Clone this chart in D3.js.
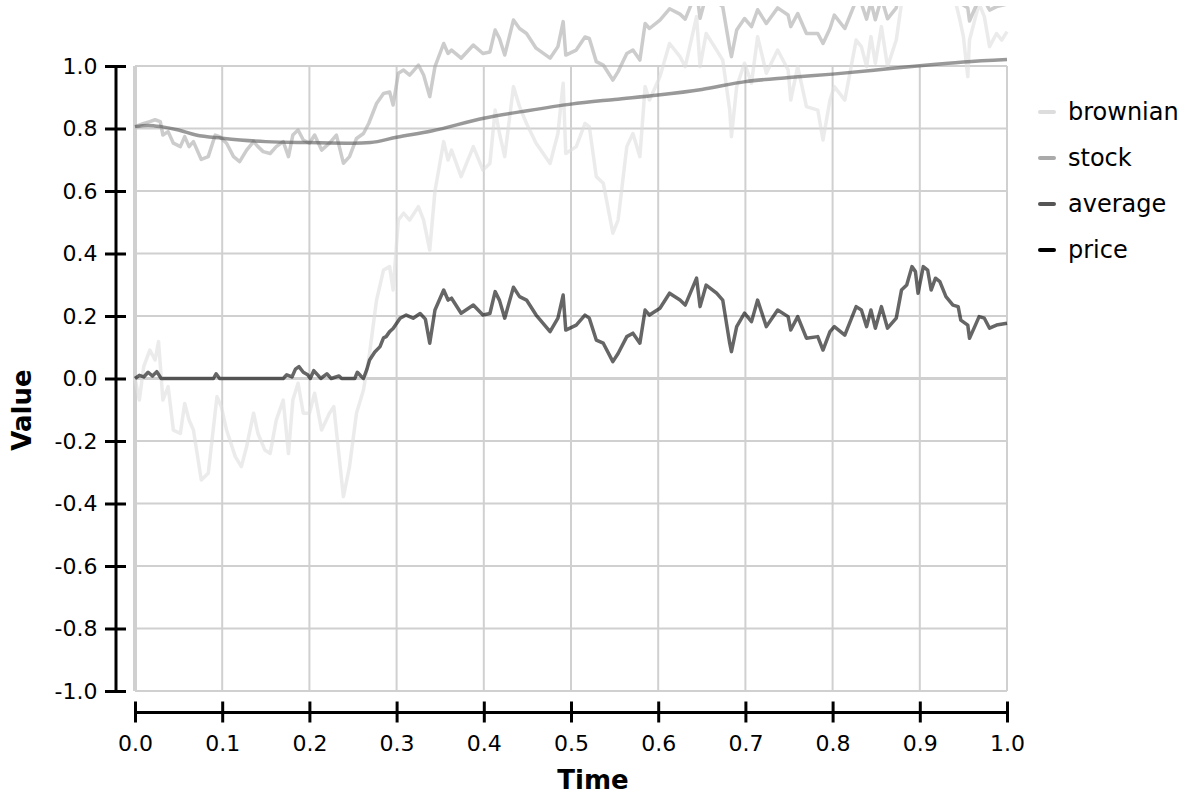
<!DOCTYPE html>
<html>
<head>
<meta charset="utf-8">
<script src="https://cdn.jsdelivr.net/npm/d3@7"></script>
<style>
  body { margin: 0; background: #fff; }
  text { font-family: "DejaVu Sans", sans-serif; fill: #000; }
</style>
</head>
<body>
<div id="chartDiv"></div>
<script>
;(function() {

	var width = 1186;
	var height = 795;
	var plot = { left: 135, right: 1007, top: 66, bottom: 691 };

	var seriesNames = ["brownian", "stock", "average", "price"];
	var seriesColors = ["#dddddd", "#aaaaaa", "#555555", "#000000"];
	var xTicks = [0, 0.1, 0.2, 0.3, 0.4, 0.5, 0.6, 0.7, 0.8, 0.9, 1.0];
	var yTicks = [-1, -0.8, -0.6, -0.4, -0.2, 0, 0.2, 0.4, 0.6, 0.8, 1.0];

	// [time, value]
	var brownian = [[0,0],[0.005,-0.069],[0.01,0.038],[0.017,0.091],[0.023,0.059],[0.027,0.118],[0.032,-0.069],[0.038,-0.026],
		[0.044,-0.165],[0.052,-0.176],[0.057,-0.08],[0.062,-0.133],[0.067,-0.165],[0.076,-0.325],[0.084,-0.303],[0.094,-0.058],
		[0.099,-0.09],[0.105,-0.165],[0.115,-0.25],[0.122,-0.282],[0.128,-0.218],[0.136,-0.111],[0.141,-0.176],[0.149,-0.229],
		[0.155,-0.24],[0.162,-0.133],[0.17,-0.069],[0.176,-0.24],[0.181,-0.069],[0.187,-0.015],[0.193,-0.111],[0.2,-0.111],
		[0.206,-0.047],[0.214,-0.165],[0.223,-0.111],[0.228,-0.09],[0.239,-0.378],[0.246,-0.282],[0.254,-0.111],[0.262,-0.037],
		[0.269,0.081],[0.277,0.251],[0.285,0.347],[0.292,0.358],[0.296,0.283],[0.302,0.507],[0.308,0.529],[0.315,0.507],
		[0.325,0.55],[0.331,0.507],[0.338,0.411],[0.344,0.6],[0.354,0.758],[0.359,0.699],[0.363,0.731],[0.374,0.646],
		[0.388,0.742],[0.399,0.667],[0.407,0.688],[0.413,0.859],[0.418,0.784],[0.424,0.71],[0.434,0.934],[0.441,0.87],
		[0.449,0.816],[0.46,0.753],[0.476,0.688],[0.485,0.784],[0.491,0.945],[0.494,0.72],[0.506,0.742],[0.516,0.816],
		[0.521,0.806],[0.529,0.646],[0.537,0.625],[0.548,0.465],[0.554,0.507],[0.564,0.742],[0.571,0.784],[0.579,0.71],
		[0.585,0.934],[0.59,0.891],[0.602,0.966],[0.613,1.072],[0.625,1.03],[0.631,0.998],[0.644,1.158],[0.648,0.998],
		[0.655,1.104],[0.667,1.051],[0.674,1.019],[0.682,0.859],[0.684,0.774],[0.69,0.934],[0.699,1.009],[0.707,0.945],
		[0.714,1.094],[0.724,0.977],[0.737,1.051],[0.749,0.987],[0.752,0.891],[0.76,0.998],[0.77,0.87],[0.783,0.859],
		[0.789,0.763],[0.797,0.891],[0.802,0.934],[0.814,0.891],[0.827,1.083],[0.833,1.062],[0.839,0.998],[0.844,1.094],
		[0.849,1.009],[0.856,1.126],[0.863,0.998],[0.873,1.083],[0.879,1.2],[0.885,1.25],[0.891,1.35],[0.898,1.28],
		[0.904,1.36],[0.913,1.3],[0.923,1.33],[0.93,1.28],[0.938,1.24],[0.946,1.147],[0.95,1.094],[0.955,0.966],
		[0.957,1.083],[0.963,1.147],[0.968,1.2],[0.974,1.158],[0.98,1.062],[0.988,1.104],[0.994,1.083],[1.0,1.11]];

	var stock = [[0,0.806],[0.01,0.816],[0.017,0.822],[0.023,0.828],[0.029,0.822],[0.032,0.779],[0.038,0.79],[0.044,0.753],
		[0.052,0.742],[0.057,0.774],[0.062,0.742],[0.067,0.758],[0.076,0.701],[0.084,0.71],[0.092,0.779],[0.097,0.774],
		[0.105,0.753],[0.113,0.71],[0.12,0.694],[0.128,0.731],[0.136,0.758],[0.141,0.742],[0.147,0.726],[0.155,0.72],
		[0.162,0.742],[0.17,0.758],[0.176,0.71],[0.181,0.779],[0.187,0.795],[0.193,0.763],[0.2,0.753],[0.206,0.779],
		[0.214,0.731],[0.223,0.753],[0.231,0.779],[0.239,0.689],[0.246,0.71],[0.254,0.768],[0.262,0.784],[0.268,0.816],
		[0.277,0.88],[0.285,0.912],[0.292,0.917],[0.296,0.875],[0.302,0.977],[0.308,0.987],[0.315,0.971],[0.325,1.003],
		[0.331,0.971],[0.338,0.902],[0.344,0.998],[0.354,1.072],[0.359,1.04],[0.363,1.051],[0.374,1.025],[0.388,1.067],
		[0.399,1.04],[0.407,1.045],[0.413,1.115],[0.418,1.088],[0.424,1.035],[0.434,1.147],[0.441,1.12],[0.449,1.104],
		[0.46,1.057],[0.476,1.025],[0.485,1.062],[0.491,1.142],[0.494,1.035],[0.506,1.051],[0.516,1.093],[0.521,1.088],
		[0.529,1.014],[0.537,1.003],[0.548,0.955],[0.554,0.982],[0.564,1.04],[0.571,1.051],[0.579,1.019],[0.585,1.136],
		[0.59,1.12],[0.602,1.147],[0.613,1.183],[0.625,1.166],[0.631,1.15],[0.644,1.24],[0.648,1.153],[0.655,1.225],
		[0.667,1.204],[0.674,1.19],[0.682,1.058],[0.684,1.03],[0.69,1.115],[0.699,1.152],[0.707,1.126],[0.714,1.18],
		[0.724,1.136],[0.737,1.186],[0.749,1.163],[0.752,1.126],[0.76,1.168],[0.77,1.104],[0.783,1.104],[0.789,1.072],
		[0.797,1.12],[0.802,1.163],[0.814,1.12],[0.827,1.21],[0.833,1.2],[0.839,1.15],[0.844,1.205],[0.849,1.148],
		[0.856,1.218],[0.863,1.151],[0.873,1.186],[0.879,1.277],[0.885,1.295],[0.891,1.356],[0.895,1.342],[0.898,1.273],
		[0.904,1.36],[0.909,1.35],[0.913,1.287],[0.918,1.325],[0.923,1.318],[0.93,1.272],[0.938,1.247],[0.944,1.243],
		[0.947,1.2],[0.955,1.186],[0.957,1.144],[0.963,1.183],[0.968,1.215],[0.974,1.211],[0.98,1.179],[0.988,1.19],[1.0,1.198]];

	var average = [[0,0.806],[0.015,0.81],[0.03,0.806],[0.05,0.795],[0.07,0.779],[0.1,0.769],[0.15,0.758],[0.2,0.755],
		[0.25,0.753],[0.27,0.755],[0.3,0.772],[0.34,0.792],[0.4,0.833],[0.45,0.857],[0.5,0.878],[0.55,0.893],
		[0.6,0.907],[0.65,0.925],[0.7,0.95],[0.75,0.963],[0.8,0.974],[0.85,0.987],[0.9,1.001],[0.95,1.013],[1.0,1.021]];

	var price = [[0,0],[0.005,0.01],[0.01,0.005],[0.015,0.02],[0.02,0.008],[0.025,0.022],[0.03,0],[0.09,0],[0.093,0.015],
		[0.097,0],[0.17,0],[0.174,0.012],[0.18,0.005],[0.184,0.03],[0.188,0.038],[0.193,0.02],[0.198,0.012],[0.201,0],
		[0.205,0.025],[0.21,0.01],[0.213,0],[0.22,0.015],[0.225,0],[0.234,0.008],[0.237,0],[0.252,0],[0.255,0.02],
		[0.259,0.008],[0.262,0],[0.266,0.03],[0.269,0.059],[0.275,0.085],[0.281,0.102],[0.285,0.13],[0.288,0.134],
		[0.292,0.15],[0.296,0.16],[0.304,0.193],[0.311,0.203],[0.319,0.193],[0.327,0.208],[0.333,0.19],[0.338,0.113],
		[0.344,0.219],[0.354,0.283],[0.359,0.251],[0.363,0.257],[0.374,0.209],[0.388,0.235],[0.399,0.203],[0.407,0.208],
		[0.413,0.278],[0.418,0.25],[0.424,0.193],[0.434,0.292],[0.441,0.262],[0.449,0.251],[0.46,0.203],[0.476,0.15],
		[0.485,0.193],[0.491,0.267],[0.494,0.155],[0.506,0.171],[0.516,0.203],[0.521,0.193],[0.529,0.123],[0.537,0.113],
		[0.548,0.054],[0.554,0.08],[0.564,0.134],[0.571,0.145],[0.579,0.113],[0.585,0.219],[0.59,0.203],[0.602,0.225],
		[0.613,0.273],[0.625,0.251],[0.631,0.235],[0.644,0.321],[0.648,0.23],[0.655,0.299],[0.667,0.273],[0.674,0.251],
		[0.682,0.113],[0.684,0.086],[0.69,0.166],[0.699,0.209],[0.707,0.182],[0.714,0.251],[0.724,0.166],[0.737,0.219],
		[0.749,0.198],[0.752,0.155],[0.76,0.198],[0.77,0.129],[0.783,0.134],[0.789,0.091],[0.797,0.15],[0.802,0.166],
		[0.814,0.139],[0.827,0.23],[0.833,0.219],[0.839,0.166],[0.844,0.219],[0.849,0.161],[0.856,0.23],[0.863,0.161],
		[0.873,0.193],[0.879,0.283],[0.885,0.299],[0.891,0.358],[0.895,0.342],[0.898,0.273],[0.904,0.358],[0.909,0.347],
		[0.913,0.283],[0.918,0.321],[0.923,0.31],[0.93,0.262],[0.938,0.235],[0.944,0.23],[0.947,0.187],[0.955,0.171],
		[0.957,0.129],[0.963,0.166],[0.968,0.198],[0.974,0.193],[0.98,0.161],[0.988,0.171],[1.0,0.177]];

	var allSeries = [brownian, stock, average, price];

	var svg = d3.select("#chartDiv").append("svg")
		.attr("width", width)
		.attr("height", height);

	var xScale = d3.scaleLinear().domain([0, 1]).range([plot.left, plot.right]);
	var yScale = d3.scaleLinear().domain([-1, 1]).range([plot.bottom, plot.top]);
	var fmt = function(d) { return d.toFixed(1); };

	// grid
	var grid = svg.append("g").attr("class", "grid");
	grid.selectAll(".vgrid")
		.data(xTicks)
		.enter().append("line")
		.attr("x1", function(d) { return xScale(d); })
		.attr("x2", function(d) { return xScale(d); })
		.attr("y1", plot.top)
		.attr("y2", plot.bottom)
		.style("stroke", "#d0d0d0")
		.style("stroke-width", function(d) { return d === 0 ? 4 : 2; });
	grid.selectAll(".hgrid")
		.data(yTicks)
		.enter().append("line")
		.attr("x1", plot.left)
		.attr("x2", plot.right)
		.attr("y1", function(d) { return yScale(d); })
		.attr("y2", function(d) { return yScale(d); })
		.style("stroke", "#d0d0d0")
		.style("stroke-width", function(d) { return d === 0 ? 3 : 2; });

	// lines, clipped a bit above the plot top
	svg.append("clipPath").attr("id", "clip")
		.append("rect")
		.attr("x", plot.left - 5)
		.attr("y", 6)
		.attr("width", plot.right - plot.left + 10)
		.attr("height", plot.bottom - 6);

	var lineGen = d3.line()
		.x(function(d) { return xScale(d[0]); })
		.y(function(d) { return yScale(d[1]); });
	var smoothGen = d3.line()
		.curve(d3.curveMonotoneX)
		.x(function(d) { return xScale(d[0]); })
		.y(function(d) { return yScale(d[1]); });

	svg.append("g").attr("clip-path", "url(#clip)")
		.selectAll("path")
		.data(allSeries)
		.enter().append("path")
		.attr("d", function(d, i) { return i === 2 ? smoothGen(d) : lineGen(d); })
		.style("fill", "none")
		.style("stroke", function(d, i) { return seriesColors[i]; })
		.style("stroke-opacity", 0.6)
		.style("stroke-width", 3.5)
		.style("stroke-linejoin", "round");

	// y axis
	var yAxis = d3.axisLeft(yScale)
		.tickValues(yTicks)
		.tickFormat(fmt)
		.tickSize(9)
		.tickSizeOuter(0)
		.tickPadding(9);
	var yAxisG = svg.append("g")
		.attr("transform", "translate(115.5,0)")
		.call(yAxis);
	yAxisG.selectAll(".tick line").attr("x1", 9);

	// x axis
	var xAxis = d3.axisBottom(xScale)
		.tickValues(xTicks)
		.tickFormat(fmt)
		.tickSize(9)
		.tickSizeOuter(0)
		.tickPadding(14);
	var xAxisG = svg.append("g")
		.attr("transform", "translate(0,712)")
		.call(xAxis);
	xAxisG.selectAll(".tick line").attr("y1", -9);

	svg.selectAll(".domain, .tick line")
		.style("stroke", "#000")
		.style("stroke-width", 3)
		.style("stroke-linecap", "square");
	svg.selectAll(".tick text")
		.style("font-size", "22px")
		.style("font-family", "DejaVu Sans")
		.style("fill", "#000");

	// axis titles
	svg.append("text")
		.attr("text-anchor", "middle")
		.attr("x", width / 2)
		.attr("y", 789)
		.style("font-size", "26px")
		.style("font-weight", "bold")
		.text("Time");
	svg.append("text")
		.attr("text-anchor", "middle")
		.attr("transform", "translate(31,410) rotate(-90)")
		.style("font-size", "26px")
		.style("font-weight", "bold")
		.text("Value");

	// legend
	var legend = svg.append("g").attr("class", "legend");
	var rows = legend.selectAll("g")
		.data(seriesNames)
		.enter().append("g")
		.attr("transform", function(d, i) { return "translate(1039," + (112 + i * 46) + ")"; });
	rows.append("line")
		.attr("x1", 1).attr("x2", 15)
		.style("stroke", function(d, i) { return seriesColors[i]; })
		.style("stroke-width", 4)
		.style("stroke-linecap", "round");
	rows.append("text")
		.attr("x", 29)
		.attr("dy", "0.35em")
		.style("font-size", "24px")
		.text(function(d) { return d; });

})();
</script>
</body>
</html>
